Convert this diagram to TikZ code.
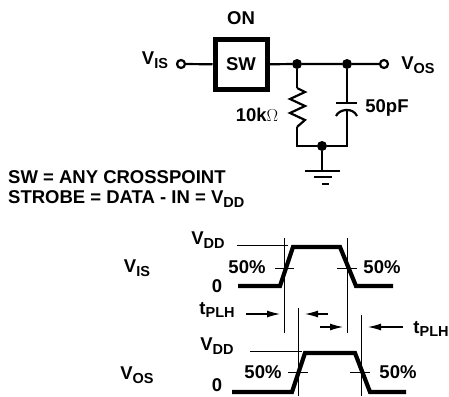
\documentclass[tikz,border=0pt]{standalone}
\usepackage{fontspec}
\setmainfont{Liberation Sans}
\usetikzlibrary{arrows.meta}
\newcommand{\lowtxt}[1]{\raisebox{-0.35ex}{\fontsize{14.5}{14.5}\selectfont #1}}
\tikzset{
	lbl/.style={inner sep=0pt, font=\fontsize{18.5}{20}\selectfont\bfseries},
	wire/.style={line width=2.2pt},
	wave/.style={line width=4.2pt, line join=miter},
	thin/.style={line width=1pt},
	dotnode/.style={circle, fill=black, inner sep=0pt, minimum size=10pt},
	portnode/.style={circle, draw=black, fill=white, line width=2.2pt, inner sep=0pt, minimum size=8pt},
	swbox/.style={draw=black, line width=5pt, minimum width=52pt, minimum height=49pt, inner sep=0pt},
	timearrow/.style={line width=1.1pt, -{Latex[length=13pt,width=7pt]}}
}
\begin{document}
\begin{tikzpicture}[x=1pt, y=-1pt]
	\useasboundingbox (0, 0) rectangle (449, 396);

	\node[lbl] (on) at (241, 18) {ON};
	\node[swbox, lbl] (sw) at (241, 64.5) {SW};
	\node[portnode] (vis) at (181, 64) {};
	\node[portnode] (vos) at (384, 64) {};
	\node[dotnode] (resnode) at (297, 64) {};
	\node[dotnode] (capnode) at (347, 64) {};
	\node[dotnode] (gndnode) at (322, 146) {};
	\coordinate (restop) at (297, 88);
	\coordinate (resbot) at (297, 127);
	\coordinate (resfoot) at (297, 146);
	\coordinate (capfoot) at (347, 146);
	\coordinate (captop) at (347, 103);
	\coordinate (capbot) at (347, 110);
	\coordinate (gndtop) at (322, 171);

	\draw[wire] (vis) -- (sw);
	\draw[wire] (sw) -- (resnode) -- (capnode) -- (vos);
	\draw[wire] (resnode) -- (restop);
	\draw[wire, line join=miter] (restop) -- ++(8, 4) -- ++(-15, 7) -- ++(15, 7) -- ++(-15, 7) -- ++(15, 7) -- ++(-8, 7) -- (resbot);
	\draw[wire] (resbot) -- (resfoot) -- (gndnode) -- (capfoot) -- (capbot);
	\draw[wire] (capnode) -- (captop);
	\draw[wire] (336, 103) -- (357, 103);
	\draw[wire] (336, 116) .. controls (339, 109) and (353, 107) .. (357, 116);
	\draw[wire] (gndnode) -- (gndtop);
	\draw[wire] (305, 171) -- (340, 171);
	\draw[wire] (314, 177) -- (332, 177);
	\draw[wire] (322, 184) -- (329, 184);

	\node[lbl] (vislbl) at (155, 60) {V\lowtxt{IS}};
	\node[lbl] (voslbl) at (418, 65) {V\lowtxt{OS}};
	\node[lbl] (reslbl) at (257, 115) {10k{\mdseries$\Omega$}};
	\node[lbl] (caplbl) at (387, 108) {50pF};
	\node[lbl, anchor=west] (swnote) at (8, 177) {SW = ANY CROSSPOINT};
	\node[lbl, anchor=west] (strobenote) at (8, 199) {STROBE = DATA - IN = V\lowtxt{DD}};

	\draw[wave] (238, 286) -- (280, 286) -- (293, 247) -- (340, 247) -- (356, 286) -- (393, 286);
	\draw[thin] (237, 245) -- (288, 245);
	\draw[thin] (284, 238) -- (284, 333);
	\draw[thin] (347, 238) -- (347, 333);
	\draw[thin] (275, 268) -- (294, 268);
	\draw[thin] (337, 268) -- (357, 268);

	\draw[wave] (232, 392) -- (292, 392) -- (305, 353) -- (355, 353) -- (370, 392) -- (406, 392);
	\draw[thin] (250, 351) -- (302, 351);
	\draw[thin] (298, 308) -- (298, 396);
	\draw[thin] (361, 315) -- (361, 396);
	\draw[thin] (288, 372) -- (308, 372);
	\draw[thin] (350, 372) -- (370, 372);

	\coordinate (arrowa) at (246, 314);
	\coordinate (arrowb) at (328, 314);
	\coordinate (arrowc) at (320, 327);
	\coordinate (arrowd) at (403, 327);
	\draw[timearrow] (arrowa) -- (280, 314);
	\draw[timearrow] (arrowb) -- (305, 314);
	\draw[timearrow] (arrowc) -- (343, 327);
	\draw[timearrow] (arrowd) -- (368, 327);

	\node[lbl] (vddtop) at (208, 240) {V\lowtxt{DD}};
	\node[lbl] (vislevel) at (137, 268) {V\lowtxt{IS}};
	\node[lbl] (pctaleft) at (247, 267) {50\%};
	\node[lbl] (pctaright) at (382, 267) {50\%};
	\node[lbl] (zerotop) at (217, 286) {0};
	\node[lbl] (tplhleft) at (217, 310) {t\lowtxt{PLH}};
	\node[lbl] (tplhright) at (431, 329) {t\lowtxt{PLH}};
	\node[lbl] (vddbot) at (217, 346) {V\lowtxt{DD}};
	\node[lbl] (voslevel) at (137, 375) {V\lowtxt{OS}};
	\node[lbl] (pctbleft) at (263, 372) {50\%};
	\node[lbl] (pctbright) at (398, 372) {50\%};
	\node[lbl] (zerobot) at (217, 385) {0};
\end{tikzpicture}
\end{document}
